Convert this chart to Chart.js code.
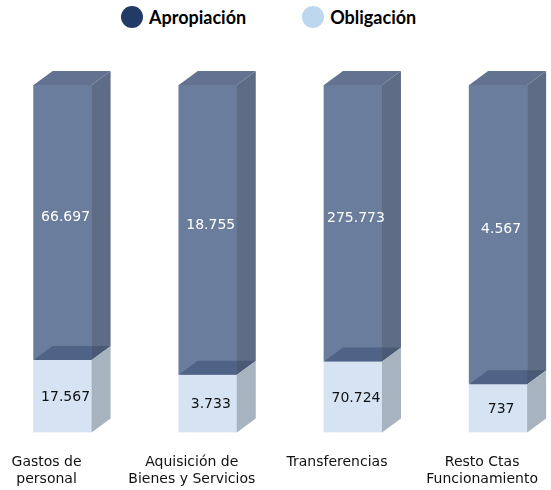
<!DOCTYPE html>
<html lang="es">
<head>
<meta charset="UTF-8" />
<title>Apropiación vs Obligación</title>
<script src="https://cdn.jsdelivr.net/npm/chart.js"></script>
<style>
body { margin: 0; background: #fff; overflow: hidden; width: 551px; height: 490px; position: relative; }
.legend {
    position: absolute; top: 6px; left: 121px;
    display: flex; align-items: center;
    font-family: 'Lato', sans-serif; font-weight: 700; font-size: 18px; color: #000;
}
.legend span.dot { width: 22px; height: 22px; border-radius: 50%; display: inline-block; margin-right: 6px; }
.legend .item { display: flex; align-items: center; margin-right: 56px; }
#chart { position: absolute; left: -10px; top: 0; }
</style>
</head>
<body>

<div class="legend">
    <div class="item"><span class="dot" style="background:#213a66"></span>Apropiación</div>
    <div class="item"><span class="dot" style="background:#bdd7ee"></span>Obligación</div>
</div>
<canvas id="chart" width="586" height="515"></canvas>

<script>
const categories = [['Gastos de', 'personal'], ['Aquisición de', 'Bienes y Servicios'], 'Transferencias', ['Resto Ctas', 'Funcionamiento']];
const apropiacion = [66697, 18755, 275773, 4567];
const obligacion = [17567, 3733, 70724, 737];
const apropiacionText = ['66.697', '18.755', '275.773', '4.567'];
const obligacionText = ['17.567', '3.733', '70.724', '737'];

// 100% stacked shares
const obligShare = obligacion.map((o, i) => o / (o + apropiacion[i]) * 100);
const apropShare = apropiacion.map((a, i) => a / (a + obligacion[i]) * 100);

const DX = 19, DY = 14;

function poly(ctx, pts, color) {
    ctx.beginPath();
    ctx.moveTo(pts[0][0], pts[0][1]);
    for (let i = 1; i < pts.length; i++) ctx.lineTo(pts[i][0], pts[i][1]);
    ctx.closePath();
    ctx.fillStyle = color;
    ctx.fill();
}

const box3d = {
    id: 'box3d',
    afterDatasetsDraw(chart) {
        const ctx = chart.ctx;
        const low = chart.getDatasetMeta(0).data;
        const high = chart.getDatasetMeta(1).data;
        ctx.save();
        low.forEach((lo, i) => {
            const hi = high[i];
            const x0 = lo.x - lo.width / 2, x1 = lo.x + lo.width / 2;
            const yb = lo.y, ybot = lo.base, yt = hi.y;
            // apropiación side and top
            poly(ctx, [[x1, yt], [x1 + DX, yt - DY], [x1 + DX, yb - DY], [x1, yb]], '#5f6c85');
            poly(ctx, [[x0, yt], [x1, yt], [x1 + DX, yt - DY], [x0 + DX, yt - DY]], '#637290');
            // obligación top seen through
            poly(ctx, [[x0, yb], [x1, yb], [x1, yb - DY], [x0 + DX, yb - DY]], '#4f6386');
            poly(ctx, [[x1, yb], [x1 + DX, yb - DY], [x1, yb - DY]], '#4a5a75');
            // obligación side
            poly(ctx, [[x1, yb], [x1 + DX, yb - DY], [x1 + DX, ybot - DY], [x1, ybot]], '#a7b4c0');

            // value labels
            ctx.font = '14px "DejaVu Sans"';
            ctx.textAlign = 'center';
            ctx.textBaseline = 'middle';
            ctx.fillStyle = '#ffffff';
            ctx.fillText(apropiacionText[i], hi.x + 3, (hi.y + hi.base) / 2 - 5);
            ctx.fillStyle = '#111111';
            ctx.fillText(obligacionText[i], lo.x + 3, (lo.y + lo.base) / 2 + 1);
        });
        ctx.restore();
    }
};

new Chart(document.getElementById('chart'), {
    type: 'bar',
    data: {
        labels: categories,
        datasets: [
            { label: 'Obligación', data: obligShare, backgroundColor: '#d5e3f3', barThickness: 58 },
            { label: 'Apropiación', data: apropShare, backgroundColor: '#6b7d9c', barThickness: 58 }
        ]
    },
    options: {
        responsive: false,
        animation: false,
        layout: { padding: { top: 85, bottom: 5, left: 0, right: 0 } },
        plugins: { legend: { display: false }, tooltip: { enabled: false } },
        scales: {
            x: {
                stacked: true,
                grid: { display: false, drawTicks: false },
                border: { display: false },
                ticks: {
                    color: '#111',
                    font: { family: 'DejaVu Sans', size: 14 },
                    padding: 22,
                    labelOffset: -16,
                    maxRotation: 0,
                    autoSkip: false
                }
            },
            y: { stacked: true, display: false, min: 0, max: 100 }
        }
    },
    plugins: [box3d]
});
</script>
</body>
</html>
